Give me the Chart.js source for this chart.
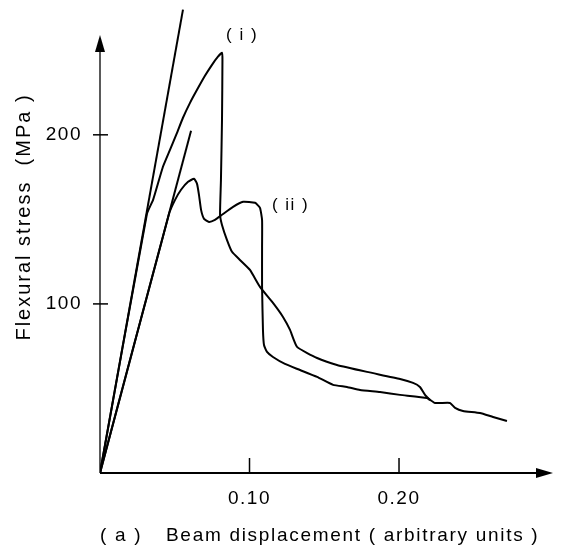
<!DOCTYPE html>
<html><head><meta charset="utf-8">
<script src="https://cdn.jsdelivr.net/npm/chart.js@4.4.0/dist/chart.umd.min.js"></script>
<style>html,body{margin:0;padding:0;background:#fff;}#wrap{width:565px;height:547px;}</style>
</head><body><div id="wrap"><canvas id="c" width="565" height="547"></canvas></div>
<script>
// ---- data ----
const yTicks = [100, 200];
const xTicks = [0.10, 0.20];
const xTickLabels = ['0.10', '0.20'];
const tangentX = [0, 0.0555];
const tangentY = [0, 274];
const lineIIX = [0, 0.0609];
const lineIIY = [0, 202.4];
const curveIX = [0, 0.0314, 0.0355, 0.0421, 0.0468, 0.0515, 0.0555, 0.0602, 0.0649, 0.0702, 0.0749, 0.0789, 0.0816,
  0.0819, 0.0816, 0.0809, 0.0803, 0.0816, 0.0849, 0.0883, 0.0936, 0.1003, 0.1070, 0.1157, 0.1224, 0.1271,
  0.1318, 0.1452, 0.1585, 0.1786, 0.2007, 0.2094, 0.2140, 0.2174, 0.2207];
const curveIY = [0, 153.3, 161.5, 181.1, 191.1, 201.2, 210.1, 218.9, 226.6, 234.9, 241.4, 246.2, 248.5,
  244.4, 208.9, 173.4, 152.7, 146.7, 137.9, 130.8, 126.0, 120.1, 110.1, 100.6, 92.3, 84.6,
  74.6, 68.0, 63.9, 59.8, 55.6, 53.3, 50.9, 46.2, 43.2];
const curveIIX = [0, 0.0462, 0.0502, 0.0542, 0.0589, 0.0629, 0.0649, 0.0662, 0.0676, 0.0696, 0.0729, 0.0769, 0.0816,
  0.0890, 0.0957, 0.1037, 0.1070, 0.1084, 0.1084, 0.1084, 0.1090, 0.1097, 0.1117, 0.1157, 0.1237, 0.1338,
  0.1452, 0.1559, 0.1652, 0.1739, 0.1873, 0.2007, 0.2187, 0.2241, 0.2341, 0.2375, 0.2428, 0.2542, 0.2629, 0.2722];
const curveIIY = [0, 153.3, 161.5, 167.5, 172.2, 174.0, 171.0, 164.5, 155.6, 150.3, 148.5, 149.7, 152.7,
  157.4, 160.4, 159.8, 156.8, 149.7, 133.7, 110.1, 84.6, 75.7, 71.6, 68.6, 64.5, 60.9,
  56.8, 52.1, 50.9, 49.1, 47.9, 46.2, 44.4, 41.4, 41.4, 38.5, 36.7, 35.5, 33.1, 30.8];
const curveLabels = ['( i )', '( ii )'];
const yTitle = 'Flexural stress  (MPa )';
const xTitlePrefix = '( a )';
const xTitle = 'Beam displacement ( arbitrary units )';

// ---- config ----
const xMax = 0.305, yMax = 275, xAxisEnd = 0.303, yAxisEnd = 259;
const labelAnchors = [[0.095, 259], [0.1275, 158.6]];
const FONT = '"Liberation Sans", Arial, sans-serif';

const pts = (xs, ys) => xs.map((x, i) => ({x, y: ys[i]}));
const lineStyle = {borderColor: '#000', borderWidth: 2, pointRadius: 0, fill: false, tension: 0.15};

const axesPlugin = {
  id: 'axesDraw',
  beforeDraw(chart) { chart.ctx.letterSpacing = '1.5px'; },
  afterDatasetsDraw(chart) {
    const ctx = chart.ctx, xs = chart.scales.x, ys = chart.scales.y;
    const x0 = xs.getPixelForValue(0), y0 = ys.getPixelForValue(0);
    const yTop = ys.getPixelForValue(yAxisEnd), xRight = xs.getPixelForValue(xAxisEnd);
    ctx.save();
    ctx.strokeStyle = '#000'; ctx.fillStyle = '#000';
    ctx.lineWidth = 1.3;
    ctx.beginPath(); ctx.moveTo(x0, y0); ctx.lineTo(x0, yTop + 12); ctx.stroke();
    ctx.beginPath(); ctx.moveTo(x0, yTop); ctx.lineTo(x0 - 5, yTop + 17); ctx.lineTo(x0 + 5, yTop + 17); ctx.closePath(); ctx.fill();
    ctx.lineWidth = 2;
    ctx.beginPath(); ctx.moveTo(x0, y0); ctx.lineTo(xRight - 12, y0); ctx.stroke();
    ctx.beginPath(); ctx.moveTo(xRight, y0); ctx.lineTo(xRight - 17, y0 - 5); ctx.lineTo(xRight - 17, y0 + 5); ctx.closePath(); ctx.fill();
    ctx.lineWidth = 1.5;
    yTicks.forEach(v => { const p = ys.getPixelForValue(v); ctx.beginPath(); ctx.moveTo(x0 - 7, p); ctx.lineTo(x0 + 8, p); ctx.stroke(); });
    xTicks.forEach(v => { const p = xs.getPixelForValue(v); ctx.beginPath(); ctx.moveTo(p, y0); ctx.lineTo(p, y0 - 15); ctx.stroke(); });
    ctx.letterSpacing = '1.7px';
    ctx.font = '19px ' + FONT;
    ctx.textBaseline = 'alphabetic';
    ctx.textAlign = 'left';
    ctx.fillText(xTitlePrefix, 100, 541);
    ctx.fillText(xTitle, 166, 541);
    ctx.save();
    ctx.letterSpacing = '2px';
    ctx.font = '20px ' + FONT;
    ctx.translate(30, 217); ctx.rotate(-Math.PI / 2);
    ctx.textAlign = 'center';
    ctx.fillText(yTitle, 0, 0);
    ctx.restore();
    ctx.letterSpacing = '1.5px';
    ctx.font = '17px ' + FONT;
    ctx.textAlign = 'center'; ctx.textBaseline = 'middle';
    curveLabels.forEach((t, i) => {
      ctx.fillText(t, xs.getPixelForValue(labelAnchors[i][0]), ys.getPixelForValue(labelAnchors[i][1]));
    });
    ctx.restore();
  }
};

new Chart(document.getElementById('c'), {
  type: 'scatter',
  data: {
    datasets: [
      {data: pts(tangentX, tangentY), showLine: true, ...lineStyle, tension: 0},
      {data: pts(lineIIX, lineIIY), showLine: true, ...lineStyle, tension: 0},
      {data: pts(curveIX, curveIY), showLine: true, ...lineStyle},
      {data: pts(curveIIX, curveIIY), showLine: true, ...lineStyle}
    ]
  },
  options: {
    responsive: false, animation: false, devicePixelRatio: 1,
    layout: {padding: {left: 0, right: 9, top: 8, bottom: 0}},
    plugins: {legend: {display: false}, tooltip: {enabled: false}},
    scales: {
      x: {
        type: 'linear', min: 0, max: xMax,
        grid: {display: false, drawTicks: false}, border: {display: false},
        afterBuildTicks: s => { s.ticks = xTicks.map(v => ({value: v})); },
        afterFit: s => { s.height = 74; s.paddingLeft = 0; s.paddingRight = 0; },
        ticks: {color: '#000', font: {family: FONT, size: 19}, padding: 14,
          callback: (v, i) => xTickLabels[i]}
      },
      y: {
        type: 'linear', min: 0, max: yMax,
        grid: {display: false, drawTicks: false}, border: {display: false},
        afterBuildTicks: s => { s.ticks = yTicks.map(v => ({value: v})); },
        afterFit: s => { s.width = 100; s.paddingTop = 0; s.paddingBottom = 0; },
        ticks: {color: '#000', font: {family: FONT, size: 19}, padding: 18}
      }
    }
  },
  plugins: [axesPlugin]
});
</script></body></html>
